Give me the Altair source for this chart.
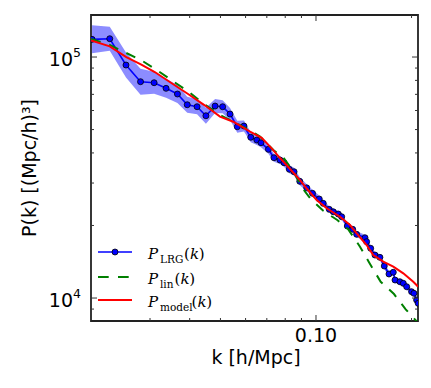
import altair as alt
import pandas as pd

# ---------------- data ----------------
k_lrg = [0.0197, 0.0224, 0.0252, 0.0280, 0.0309, 0.0337, 0.0366, 0.0393, 0.0422, 0.0450,
         0.0481, 0.0508, 0.0536, 0.0565, 0.0593, 0.0623, 0.0651, 0.0671, 0.0708, 0.0737,
         0.0770, 0.0793, 0.0824, 0.0853, 0.0889, 0.0935, 0.0975, 0.1024, 0.1054, 0.1101,
         0.1134, 0.1176, 0.1205, 0.1255, 0.1305, 0.1343, 0.1427, 0.1444, 0.1487, 0.1534,
         0.1590, 0.1641, 0.1698, 0.1752, 0.1774, 0.1839, 0.1884, 0.1931, 0.2001, 0.2035,
         0.2075, 0.2099]
p_lrg = [118400, 119100, 92640, 79000, 78240, 74150, 70230, 63400, 62200, 57060,
         62610, 62200, 58000, 51370, 51710, 46430, 45240, 44100, 41400, 38210,
         37380, 36420, 34200, 33430, 30490, 28650, 27190, 25750, 24710, 23330,
         22800, 22310, 21740, 19900, 19280, 18380, 17790, 17130, 16080, 15080,
         14750, 13580, 12580, 12790, 11880, 11680, 11510, 11140, 10620, 10460,
         9810, 9510]
err_lrg = [0.143, 0.121, 0.127, 0.132, 0.111, 0.095, 0.090, 0.079, 0.074, 0.079,
           0.069, 0.064, 0.059, 0.059, 0.054, 0.049, 0.049, 0.044, 0.044, 0.039,
           0.039, 0.039, 0.039, 0.039, 0.039, 0.034, 0.034, 0.034, 0.029, 0.029,
           0.029, 0.029, 0.029, 0.029, 0.029, 0.029, 0.029, 0.029, 0.029, 0.029,
           0.029, 0.029, 0.029, 0.029, 0.029, 0.029, 0.029, 0.029, 0.029, 0.029,
           0.029, 0.029]

k_lin = [0.01956, 0.02240, 0.02526, 0.02851, 0.03141, 0.03546, 0.03953, 0.04353, 0.04984,
         0.05626, 0.06197, 0.06663, 0.07337, 0.07889, 0.08481, 0.09055, 0.09623, 0.1054,
         0.1167, 0.1264, 0.1376, 0.1472, 0.1599, 0.1761, 0.1917, 0.2099]
p_lin = [118780, 112150, 103900, 95980, 88570, 79300, 72060, 65070, 57440,
         53070, 49550, 46790, 41130, 38280, 33650, 28600, 25750, 23020,
         21070, 19280, 16330, 14010, 11680, 10390, 8977, 7880]

k_model = [0.01956, 0.02240, 0.02526, 0.02817, 0.03105, 0.03502, 0.03953, 0.04461, 0.04984,
           0.05488, 0.06197, 0.06745, 0.07253, 0.07702, 0.08180, 0.08906, 0.09348, 0.1005,
           0.1081, 0.1190, 0.1280, 0.1343, 0.1444, 0.1515, 0.1629, 0.1752, 0.1884, 0.2025,
           0.2099]
p_model = [117090, 110760, 100000, 93090, 86660, 78010, 70230, 63040, 56620,
           53880, 48980, 46210, 41800, 38090, 34970, 30870, 28470, 25500,
           23570, 21740, 20090, 18560, 16590, 15080, 14150, 13490, 12660, 11680,
           11140]

x_major = [0.1]
x_minor = [0.03, 0.04, 0.05, 0.06, 0.07, 0.08, 0.09, 0.2]
y_major = [1e4, 1e5]
y_minor = [9000, 20000, 30000, 40000, 50000, 60000, 70000, 80000, 90000]
x_ticklabels = ["0.10"]
y_tick_base = ["10", "10"]
y_tick_exp = ["4", "5"]
legend_sub = ["LRG", "lin", "model"]

# ---------------- layout ----------------
W, H = 327, 306
xs = alt.Scale(type="log", domain=[0.01955, 0.2096], nice=False)
ys = alt.Scale(type="log", domain=[8030, 149400], nice=False)
X = lambda f: alt.X(f, type="quantitative", scale=xs, axis=None)
Y = lambda f: alt.Y(f, type="quantitative", scale=ys, axis=None)

lrg = pd.DataFrame({"k": k_lrg, "P": p_lrg,
                    "lo": [p / (1 + e) for p, e in zip(p_lrg, err_lrg)],
                    "hi": [p * (1 + e) for p, e in zip(p_lrg, err_lrg)]})
lin = pd.DataFrame({"k": k_lin, "P": p_lin})
mod = pd.DataFrame({"k": k_model, "P": p_model})

band = alt.Chart(lrg).mark_area(color="#0000ff", opacity=0.45, clip=True).encode(
    x=X("k"), y=Y("lo"), y2="hi:Q")
lrg_line = alt.Chart(lrg).mark_line(color="#0000ff", strokeWidth=1.6, clip=True).encode(
    x=X("k"), y=Y("P"))
lrg_pts = alt.Chart(lrg).mark_circle(color="#0000ff", stroke="black", strokeWidth=0.8,
                                     opacity=1, size=36, clip=True).encode(x=X("k"), y=Y("P"))
lin_line = alt.Chart(lin).mark_line(color="#008000", strokeWidth=2, strokeDash=[10, 9],
                                    clip=True).encode(x=X("k"), y=Y("P"))
mod_line = alt.Chart(mod).mark_line(color="#ff0000", strokeWidth=2, clip=True).encode(
    x=X("k"), y=Y("P"))

layers = [band, lrg_line, lrg_pts, lin_line, mod_line]

# inward ticks on all four sides
tick_col = "#333333"
for vals, ln in [(x_major, 6), (x_minor, 3)]:
    d = pd.DataFrame({"k": vals})
    layers.append(alt.Chart(d).mark_rule(color=tick_col, strokeWidth=1).encode(
        x=X("k"), y=alt.value(H), y2=alt.value(H - ln)))
    layers.append(alt.Chart(d).mark_rule(color=tick_col, strokeWidth=1).encode(
        x=X("k"), y=alt.value(0), y2=alt.value(ln)))
for vals, ln in [(y_major, 6), (y_minor, 3)]:
    d = pd.DataFrame({"P": vals})
    layers.append(alt.Chart(d).mark_rule(color=tick_col, strokeWidth=1).encode(
        y=Y("P"), x=alt.value(0), x2=alt.value(ln)))
    layers.append(alt.Chart(d).mark_rule(color=tick_col, strokeWidth=1).encode(
        y=Y("P"), x=alt.value(W), x2=alt.value(W - ln)))

# tick labels
sans = "DejaVu Sans"
layers.append(alt.Chart(pd.DataFrame({"k": x_major, "t": x_ticklabels})).mark_text(
    font=sans, fontSize=19, baseline="alphabetic", align="center", color="black").encode(
    x=X("k"), y=alt.value(H + 21), text="t:N"))
ylab = pd.DataFrame({"P": y_major, "b": y_tick_base, "e": y_tick_exp})
layers.append(alt.Chart(ylab).mark_text(
    font=sans, fontSize=19, baseline="alphabetic", align="right", dy=9, color="black").encode(
    x=alt.value(-18), y=Y("P"), text="b:N"))
layers.append(alt.Chart(ylab).mark_text(
    font=sans, fontSize=12.5, baseline="alphabetic", align="left", dy=0, color="black").encode(
    x=alt.value(-18), y=Y("P"), text="e:N"))

# axis titles
layers.append(alt.Chart(pd.DataFrame({"t": ["k [h/Mpc]"]})).mark_text(
    font=sans, fontSize=19, baseline="alphabetic", align="center", color="black").encode(
    x=alt.value(165), y=alt.value(349), text="t:N"))
layers.append(alt.Chart(pd.DataFrame({"t": ["P(k) [(Mpc/h)³]"]})).mark_text(
    font=sans, fontSize=19, baseline="alphabetic", align="center", angle=270,
    color="black").encode(x=alt.value(-55), y=alt.value(153), text="t:N"))

# legend
sym_y = [237, 262, 285]
layers.append(alt.Chart(pd.DataFrame({"a": [0]})).mark_rule(
    color="#0000ff", strokeWidth=1.6).encode(x=alt.value(7), x2=alt.value(41), y=alt.value(sym_y[0])))
layers.append(alt.Chart(pd.DataFrame({"a": [0]})).mark_circle(
    color="#0000ff", stroke="black", strokeWidth=0.8, opacity=1, size=36).encode(
    x=alt.value(24), y=alt.value(sym_y[0])))
layers.append(alt.Chart(pd.DataFrame({"a": [0]})).mark_rule(
    color="#008000", strokeWidth=2, strokeDash=[10.7, 9.3]).encode(
    x=alt.value(7), x2=alt.value(41), y=alt.value(sym_y[1])))
layers.append(alt.Chart(pd.DataFrame({"a": [0]})).mark_rule(
    color="#ff0000", strokeWidth=2).encode(x=alt.value(7), x2=alt.value(41), y=alt.value(sym_y[2])))

serif = "DejaVu Serif"
base_y = [244, 268.5, 292]
paren_x = [93, 83.5, 100.5]
for i, sub in enumerate(legend_sub):
    by = base_y[i]
    px = paren_x[i]
    pieces = [("P", 57, by, 15, "italic"),
              (sub, 69, by + 4, 10.5, "normal"),
              ("(", px, by, 15, "normal"),
              ("k", px + 5.9, by, 15, "italic"),
              (")", px + 5.9 + 8.9, by, 15, "normal")]
    for txt, x0, y0, fs, st in pieces:
        layers.append(alt.Chart(pd.DataFrame({"a": [0]})).mark_text(
            font=serif, fontSize=fs, fontStyle=st, baseline="alphabetic", align="left",
            color="black").encode(x=alt.value(x0), y=alt.value(y0), text=alt.value(txt)))

chart = alt.layer(*layers).properties(
    width=W, height=H,
    autosize=alt.AutoSizeParams(type="none"),
    padding={"left": 83, "top": 7, "right": 5, "bottom": 60},
).configure_view(stroke="#222222", strokeWidth=1.8)

chart.save("out.html", embed_options={"renderer": "svg", "actions": False})
